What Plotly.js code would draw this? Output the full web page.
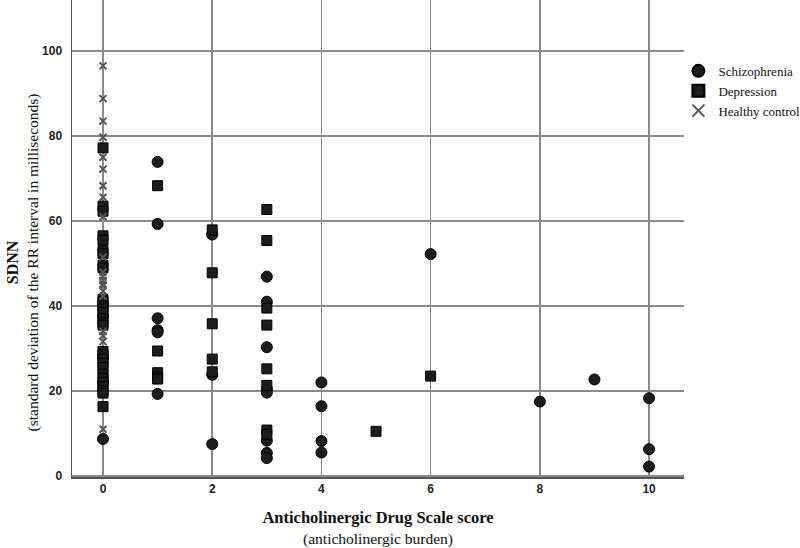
<!DOCTYPE html>
<html>
<head>
<meta charset="utf-8">
<script src="https://cdn.plot.ly/plotly-3.0.1.min.js"></script>
<style>html,body{margin:0;padding:0;background:#fff;}#chart{width:800px;height:548px;}</style>
</head>
<body>
<div id="chart"></div>
<script>
// Anticholinergic Drug Scale score (x) and SDNN in ms (y) per group
var schizoX = [0,0,0,0,0, 1,1,1,1,1,1, 2,2,2, 3,3,3,3,3,3,3,3, 4,4,4,4, 6, 8, 9, 10,10,10];
var schizoY = [8.7,40.5,37.5,28,22, 73.9,59.3,37.1,34.3,33.8,19.3, 56.8,23.8,7.5, 46.9,41,30.3,20.5,19.6,8.3,5.4,4.2, 22,16.4,8.2,5.5, 52.2, 17.5, 22.7, 18.3,6.3,2.2];

var deprX = [0,0,0,0,0,0,0,0,0,0,0,0,0,0,0,0,0,0,0,0,0,0,0,0,0,0,0,0,0,
             1,1,1,1,1, 2,2,2,2,2, 3,3,3,3,3,3,3,3, 5, 6];
var deprY = [77.2,63.5,62.3,56.5,55.5,53,52.3,49.5,49,41.5,41,40,39.3,38.5,37,36,35.5,29.3,28.5,27.5,26.5,25.5,24,23,22,21,20,19.5,16.3,
             68.3,29.4,24.3,23.3,22.8, 57.9,47.8,35.8,27.5,24.5, 62.7,55.4,39.5,35.5,25.2,21.3,10.8,9.8, 10.5, 23.5];

var hcX = [0,0,0,0,0,0,0,0,0,0,0,0,0,0,0,0,0,0,0,0,0];
var hcY = [96.5,88.8,83.5,79.7,75,72.2,68.3,65.6,61,51.5,48,47,46,44.8,43.5,42.3,34,31.6,11,45.2,33];

var groupNames = ['Schizophrenia','Depression','Healthy control'];
var xTicks = [0,2,4,6,8,10];
var yTicks = [0,20,40,60,80,100];
var xTitle = ['Anticholinergic Drug Scale score', '(anticholinergic burden)'];
var yTitle = ['SDNN', '(standard deviation of the RR interval in milliseconds)'];

var traces = [
  {x: schizoX, y: schizoY, name: groupNames[0], type: 'scatter', mode: 'markers',
   marker: {symbol: 'circle', size: 11, color: '#1c1c1c', line: {color: '#000', width: 1}}},
  {x: deprX, y: deprY, name: groupNames[1], type: 'scatter', mode: 'markers',
   marker: {symbol: 'square', size: 10, color: '#1c1c1c', line: {color: '#000', width: 1}}},
  {x: hcX, y: hcY, name: groupNames[2], type: 'scatter', mode: 'markers',
   marker: {symbol: 'x-thin', size: 7, color: '#555', line: {color: '#555', width: 2}}}
];

var tickFont = {family: 'Liberation Sans, Arial, sans-serif', size: 12, color: '#222', weight: 'bold'};
var serif = 'Liberation Serif, Times New Roman, serif';

var layout = {
  width: 800, height: 548,
  margin: {l: 72, r: 116, t: 0, b: 71},
  paper_bgcolor: '#fff', plot_bgcolor: '#fff',
  showlegend: true,
  legend: {xref: 'container', yref: 'container', x: 0.8555, y: 0.898, xanchor: 'left', yanchor: 'top',
           indentation: -6,
           font: {family: serif, size: 13, color: '#111'}, itemsizing: 'constant',
           tracegroupgap: 0, bgcolor: 'rgba(0,0,0,0)'},
  xaxis: {
    range: [-0.568, 10.64], tickvals: xTicks, ticktext: xTicks.map(String),
    showgrid: true, gridcolor: '#8a8a8a', gridwidth: 1.5, zeroline: false,
    showline: true, linecolor: '#555', linewidth: 1.5, ticks: '',
    tickfont: tickFont,
    title: {text: '<b><span style="font-size:16.5px">' + xTitle[0] + '</span></b><br><span style="font-size:15.5px">' + xTitle[1] + '</span>',
            font: {family: serif, size: 16, color: '#111'}, standoff: 22}
  },
  yaxis: {
    range: [-0.25, 112], tickvals: yTicks, ticktext: yTicks.map(String),
    showgrid: true, gridcolor: '#8a8a8a', gridwidth: 1.5, zeroline: false,
    showline: true, linecolor: '#555', linewidth: 1.5, ticks: '',
    tickfont: tickFont, ticklabelstandoff: 6
  },
  annotations: [{
    xref: 'paper', yref: 'paper', x: -0.08, y: 0.45, xanchor: 'center', yanchor: 'middle',
    textangle: -90, showarrow: false,
    text: '<b><span style="font-size:16px">' + yTitle[0] + '</span></b><br>' + yTitle[1],
    font: {family: serif, size: 15.5, color: '#111'}
  }]
};

Plotly.newPlot('chart', traces, layout, {displayModeBar: false, staticPlot: true});
</script>
</body>
</html>
